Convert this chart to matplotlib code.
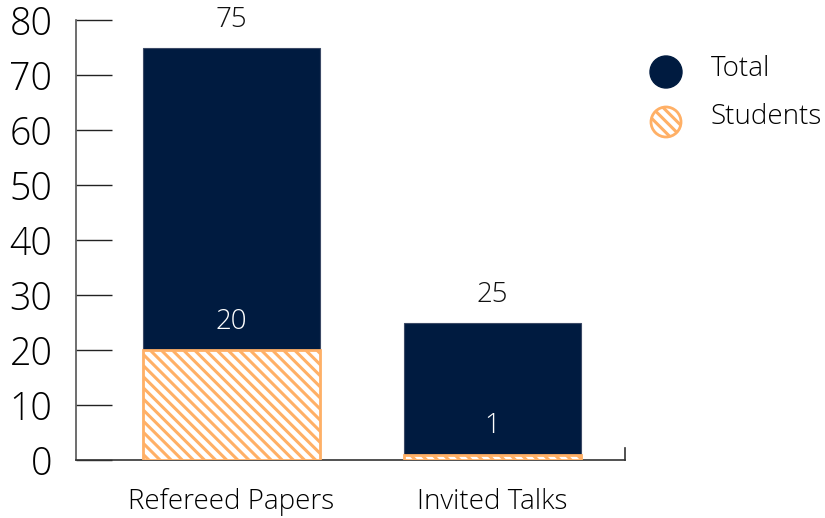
import matplotlib
matplotlib.use("Agg")
import matplotlib.pyplot as plt
import matplotlib.patches as mpatches

categories = ["Refereed Papers", "Invited Talks"]
total = [75, 25]
students = [20, 1]
series_names = ["Total", "Students"]
yticks = [0, 10, 20, 30, 40, 50, 60, 70, 80]

NAVY = "#001b40"
ORANGE = "#ffb066"
FW = "light"

plt.rcParams['font.family'] = ['Open Sans', 'DejaVu Sans']
plt.rcParams['hatch.linewidth'] = 2.2
plt.rcParams['hatch.color'] = ORANGE

fig = plt.figure(figsize=(8.25, 5.18), dpi=100)
ax = fig.add_axes([76/825, 1-460/518, (625-76)/825, 440/518])

x = list(range(len(categories)))
w = 0.678
ax.bar(x, total, width=w, color=NAVY, edgecolor="#3c4a66", linewidth=0.8, zorder=2)
ax.bar(x, students, width=w, color="white", edgecolor=ORANGE, hatch="\\\\\\", linewidth=2, zorder=3)

for xi, t in zip(x, total):
    ax.text(xi, t + 5.0, str(t), ha="center", va="center", fontsize=20, fontweight=FW, color="#111111")
for xi, s in zip(x, students):
    ax.text(xi, s + 5.1, str(s), ha="center", va="center", fontsize=20, fontweight=FW, color="white", zorder=4)

ax.set_xlim(-0.596, 1.508)
ax.set_ylim(0, 80)
ax.set_yticks(yticks)
ax.set_yticklabels([str(v) for v in yticks], fontsize=27, fontweight=FW)
ax.tick_params(axis="y", direction="in", length=26, width=1, color="#222222", pad=17)
ax.set_xticks(x)
ax.set_xticklabels(categories, fontsize=20, fontweight=FW)
ax.tick_params(axis="x", length=0, pad=20)
for s in ["top", "right"]:
    ax.spines[s].set_visible(False)
ax.spines["left"].set_color("#555555")
ax.spines["left"].set_linewidth(1.2)
ax.spines["bottom"].set_color("#333333")
ax.spines["bottom"].set_linewidth(1.2)
ax.plot([1, 1], [0, 0.027], transform=ax.transAxes, color="#333333", lw=1.2, clip_on=False)

# legend overlay in pixel coordinates
lax = fig.add_axes([0, 0, 1, 1])
lax.set_xlim(0, 825)
lax.set_ylim(518, 0)
lax.axis("off")
lax.add_patch(mpatches.Circle((666, 72), 16, facecolor=NAVY, edgecolor=NAVY))
lax.add_patch(mpatches.Circle((666, 122), 15, facecolor="white", edgecolor=ORANGE, hatch="\\\\\\", linewidth=2))
lax.text(711, 69, series_names[0], fontsize=20, fontweight=FW, va="center", ha="left")
lax.text(711, 117, series_names[1], fontsize=20, fontweight=FW, va="center", ha="left")

fig.savefig("out.png", dpi=100)
